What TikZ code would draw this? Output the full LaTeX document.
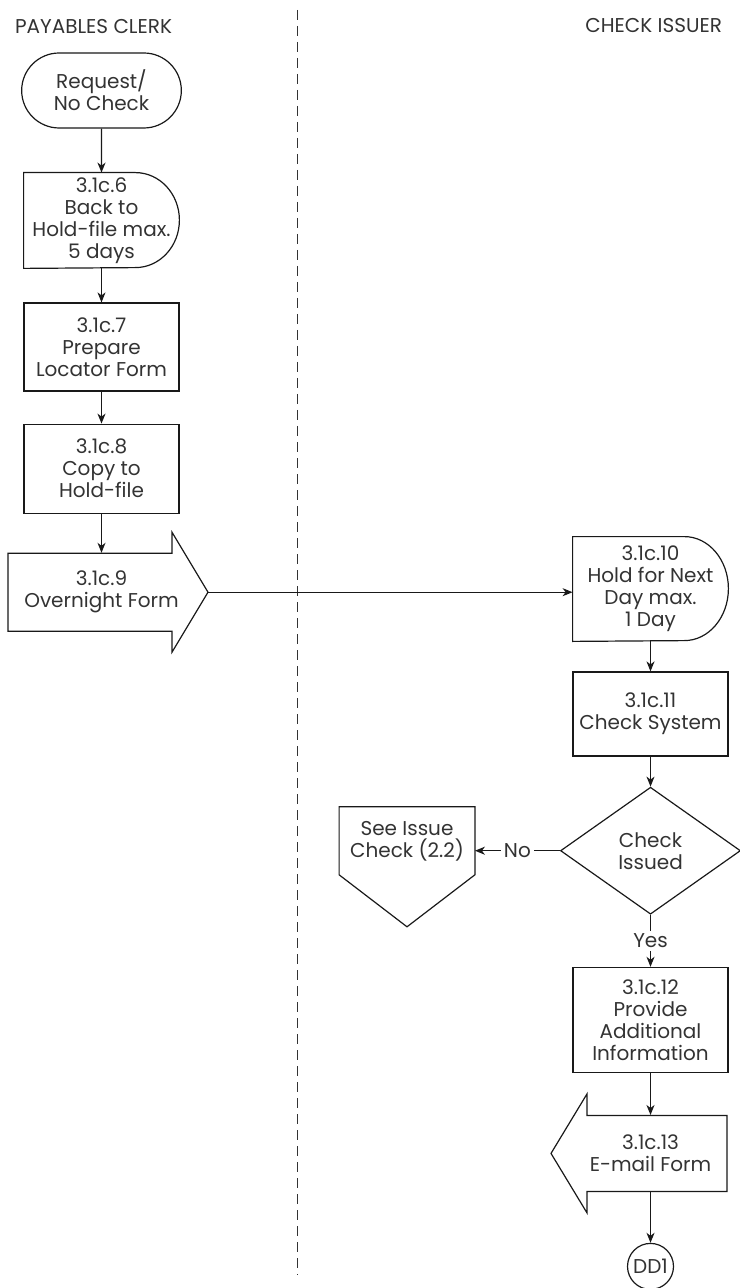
\documentclass[tikz,border=0pt]{standalone}
\usepackage{fontspec}
\setmainfont{Poppins}
\usepackage{xcolor}
\usepackage{tikz}
\usetikzlibrary{
    arrows.meta,
    positioning,
    shapes.geometric,
    shapes.misc,
    calc,
}

% delay outline round a named node: #1 name, #2 half height
\newcommand{\delayline}[2]{%
    \draw[shapeline] (#1.north west) -- ([xshift=-22pt]#1.north east)
        arc[start angle=90, end angle=-90, x radius=22pt, y radius=#2]
        -- (#1.south west) -- cycle;
}
% flag pointing right, tip named #1-tip
\newcommand{\rightflag}[1]{%
    \draw[shapeline] ([shift={(-46.75pt,19.5pt)}]#1.center) -- ++(82pt,0)
        -- ++(0,10.5pt) -- ++(18pt,-30pt) -- ++(-18pt,-30pt)
        -- ++(0,10.5pt) -- ++(-82pt,0) -- cycle;
    \coordinate (#1-tip) at ([xshift=53.25pt]#1.center);
}
% flag pointing left
\newcommand{\leftflag}[1]{%
    \draw[shapeline] ([shift={(38.25pt,19pt)}]#1.center) -- ++(-70pt,0)
        -- ++(0,10.75pt) -- ++(-18pt,-29.75pt) -- ++(18pt,-29.75pt)
        -- ++(0,10.75pt) -- ++(70pt,0) -- cycle;
}

\begin{document}
\begin{tikzpicture}[
        >={Stealth[length=5pt, width=4pt, inset=1.5pt]},
        font=\fontsize{10}{11}\selectfont,
        every node/.style={text=black!80},
        shapeline/.style={draw=black!90, line width=0.6pt},
        stepbox/.style={
            rectangle, draw=black!90, line width=0.6pt,
            minimum width=77.5pt, minimum height=#1,
            align=center, inner sep=1pt
        },
        stepbox/.default=44pt,
        delaybox/.style={
            rectangle, minimum width=77.5pt, minimum height=#1,
            align=center, inner sep=1pt
        },
        flagbox/.style={
            rectangle, minimum width=60pt, minimum height=#1,
            align=center, inner sep=1pt
        },
        terminal/.style={
            rounded rectangle, draw=black!90, line width=0.6pt,
            minimum width=86.5pt, minimum height=37.5pt, align=center
        },
        decision/.style={
            diamond, draw=black!90, line width=0.6pt,
            minimum width=90pt, minimum height=63.5pt,
            inner sep=0pt, align=center
        },
        offpage/.style={
            rectangle, minimum width=67.5pt, minimum height=34pt,
            align=center, inner sep=1pt
        },
        connector/.style={
            circle, draw=black!90, line width=0.6pt,
            minimum size=23pt, inner sep=0pt
        },
        arrow/.style={->, line width=0.6pt, black!90},
        lbl/.style={fill=white, inner sep=1.5pt},
        lane/.style={line width=0.5pt, black!80, dash pattern=on 5pt off 3pt},
    ]
    \useasboundingbox (0,0) rectangle (369.5pt,-644pt);

    % ── Lanes ──
    \node[anchor=west] (clerk) at (4pt,-13.5pt) {PAYABLES CLERK};
    \node[anchor=east] (issuer) at (364.5pt,-13pt) {CHECK ISSUER};
    \coordinate (laneTop) at (148.5pt,-5pt);
    \coordinate (laneBot) at (148.5pt,-637.5pt);
    \draw[lane] (laneTop) -- (laneBot);

    % ── Payables clerk ──
    \node[terminal] (req) at (50.75pt,-45.25pt) {Request/\\No Check};
    \node[delaybox=47.5pt, below=22pt of req] (c6)
        {3.1c.6\\Back to\\Hold-file max.\\5 days};
    \delayline{c6}{23.75pt}
    \node[stepbox=44pt, below=17pt of c6] (c7)
        {3.1c.7\\Prepare\\Locator Form};
    \node[stepbox=44.5pt, below=16pt of c7] (c8)
        {3.1c.8\\Copy to\\Hold-file};
    \node[flagbox=39pt, below=19.5pt of c8] (ovn)
        {3.1c.9\\Overnight Form};
    \rightflag{ovn}

    % ── Check issuer ──
    \node[delaybox=52pt] (c10) at (325.25pt,-294.5pt)
        {3.1c.10\\Hold for Next\\Day max.\\1 Day};
    \delayline{c10}{26pt}
    \node[stepbox=42pt, below=15pt of c10] (c11)
        {3.1c.11\\Check System};
    \node[decision, below=15pt of c11] (dec) {Check\\Issued};
    \node[offpage, left=42.5pt of dec, yshift=4.75pt] (pent)
        {See Issue\\Check (2.2)};
    \draw[shapeline] (pent.north west) -- (pent.north east)
        -- ([yshift=-34pt]pent.north east) -- ([yshift=-60pt]pent.north)
        -- ([yshift=-34pt]pent.north west) -- cycle;
    \node[stepbox=52.5pt, below=26pt of dec] (c12)
        {3.1c.12\\Provide\\Additional\\Information};
    \node[flagbox=38pt, below=21pt of c12] (mail)
        {3.1c.13\\E-mail Form};
    \leftflag{mail}
    \node[connector, below=25.5pt of mail] (dd1) {DD1};

    % ── Arrows ──
    \draw[arrow] (req) -- (c6);
    \draw[arrow] (c6) -- (c7);
    \draw[arrow] (c7) -- (c8);
    \draw[arrow] (c8) -- (ovn);
    \draw[arrow] (ovn-tip) -- (ovn-tip -| c10.west);
    \draw[arrow] (c10) -- (c11);
    \draw[arrow] (c11) -- (dec);
    \draw[arrow] (dec.west) -- node[lbl] {No} (dec.west -| pent.east);
    \draw[arrow] (dec) -- node[lbl] {Yes} (c12);
    \draw[arrow] (c12) -- (mail);
    \draw[arrow] (mail) -- (dd1);

    \end{tikzpicture}
\end{document}
